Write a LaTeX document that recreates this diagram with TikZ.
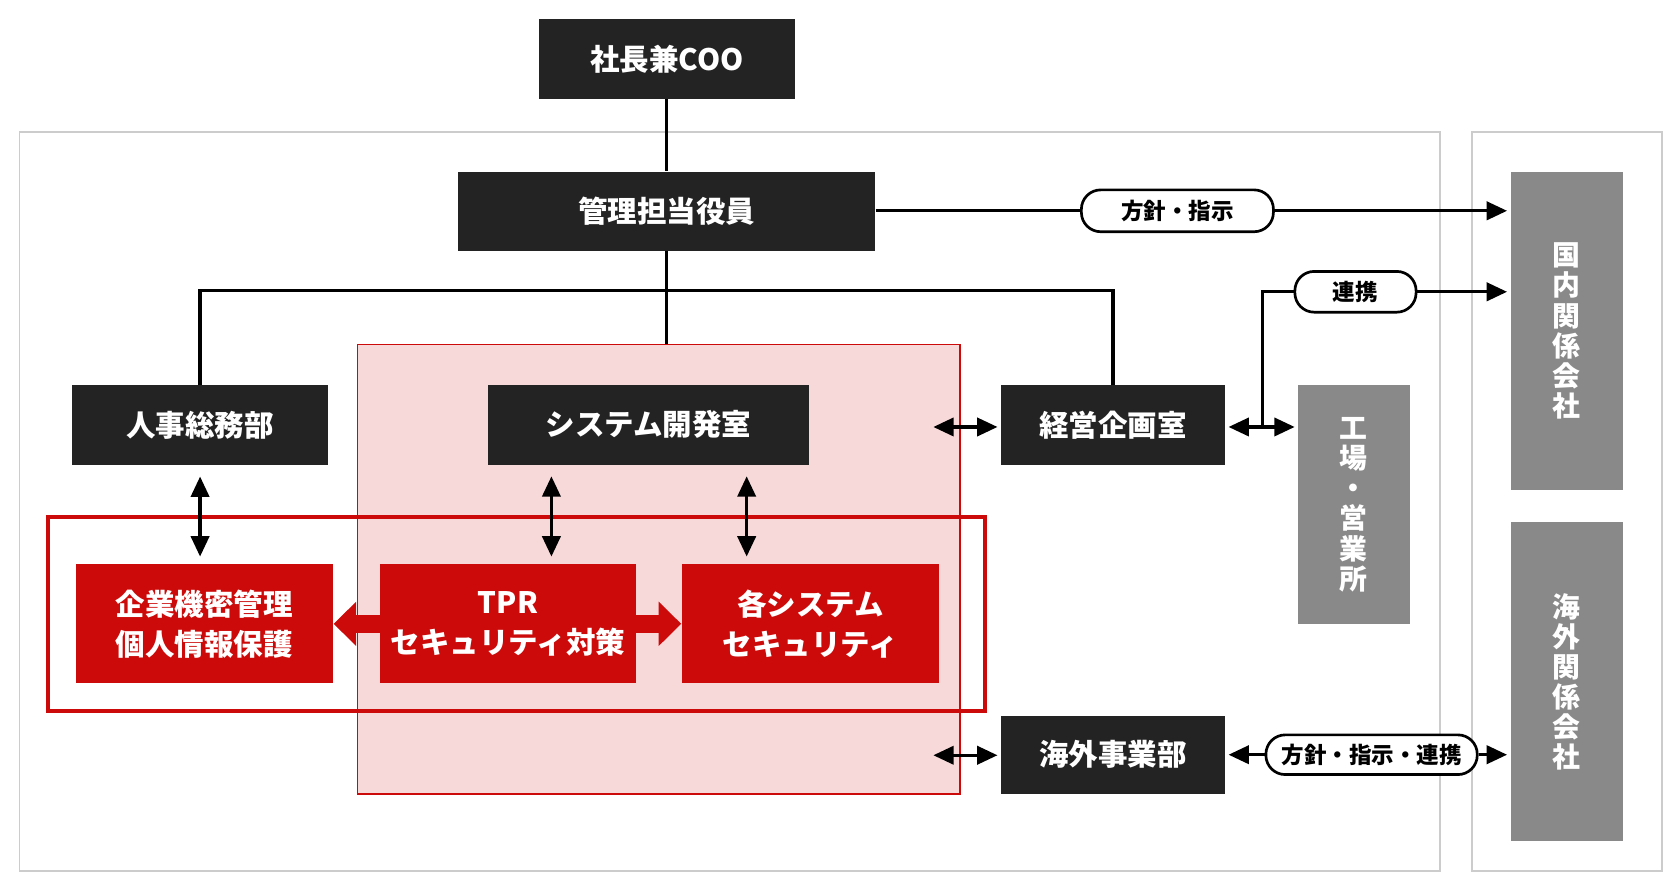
\documentclass[tikz,border=0pt]{standalone}
\usepackage{fontspec}
\setmainfont{Noto Sans CJK JP}
\usetikzlibrary{arrows.meta}
\definecolor{dk}{HTML}{232323}
\definecolor{rd}{HTML}{CC0A0A}
\definecolor{pk}{HTML}{F7D9DA}
\definecolor{gy}{HTML}{898989}
\definecolor{fr}{HTML}{CCCCCC}
\begin{document}
\begin{tikzpicture}[x=1pt,y=-1pt,
  hd/.tip={Triangle[length=19pt,width=17pt]},
  bighd/.tip={Triangle[length=21pt,width=40pt]},
  dbox/.style={fill=dk, text=white, inner sep=0pt, font=\bfseries\fontsize{27.5}{30}\selectfont},
  rbox/.style={fill=rd, text=white, inner sep=0pt, align=center, minimum width=239pt, minimum height=111pt, font=\bfseries\fontsize{27.5}{37}\selectfont},
  gbox/.style={fill=gy, text=white, inner sep=0pt, align=center, font=\bfseries\fontsize{26}{28}\selectfont},
  pill/.style={draw=black, fill=white, line width=2.5pt, rounded corners=18pt, inner sep=0pt, text=black, font=\bfseries\fontsize{21}{24}\selectfont},
  conn/.style={draw=black, line width=3pt},
  frame/.style={draw=fr, line width=1.5pt, inner sep=0pt}]
\useasboundingbox (0,0) rectangle (1566,829.5);
\fill[white] (0,0) rectangle (1566,829.5);
% frames
\node[frame, minimum width=1324pt, minimum height=689pt] (outer) at (680,467.5) {};
\node[frame, minimum width=177pt, minimum height=689pt] (outerr) at (1460.5,467.5) {};
% pink area
\node[draw=rd, fill=pk, line width=1.3pt, inner sep=0pt, minimum width=562pt, minimum height=419pt] (pink) at (614,530.5) {};
% red frame
\node[draw=rd, line width=4pt, inner sep=0pt, minimum width=873pt, minimum height=181pt] (rframe) at (481.5,572.5) {};
% boxes
\node[dbox, minimum width=239pt, minimum height=74pt] (coo) at (621.5,55) {社長兼COO};
\node[dbox, minimum width=389pt, minimum height=74pt] (kanri) at (621.5,197) {管理担当役員};
\node[dbox, minimum width=239pt, minimum height=74pt] (jinji) at (186.5,396) {人事総務部};
\node[dbox, minimum width=299pt, minimum height=74pt] (sys) at (604.5,396) {システム開発室};
\node[dbox, minimum width=209pt, minimum height=74pt] (keiei) at (1037.5,396) {経営企画室};
\node[dbox, minimum width=209pt, minimum height=73pt] (kaigai) at (1037.5,703.5) {海外事業部};
\node[gbox, minimum width=104pt, minimum height=223pt] (kojo) at (1262,470.5) {工\\場\\・\\営\\業\\所};
\node[gbox, minimum width=105pt, minimum height=297pt] (kokunai) at (1460.5,308.5) {国\\内\\関\\係\\会\\社};
\node[gbox, minimum width=105pt, minimum height=297pt] (kaigaikk) at (1460.5,635.5) {海\\外\\関\\係\\会\\社};
% pills
\node[pill, minimum width=179pt, minimum height=39pt] (p1) at (1097.5,196.5) {方針・指示};
\node[pill, minimum width=113pt, minimum height=38pt] (p2) at (1263.5,272) {連携};
\node[pill, minimum width=197pt, minimum height=37pt] (p3) at (1278.5,703.5) {方針・指示・連携};
% red arrow (behind red boxes)
\draw[rd, line width=17pt, {bighd}-{bighd}] (311,581.5) coordinate (ra) -- (635,581.5) coordinate (rb);
\node[rbox] (red1) at (190.5,581.5) {企業機密管理\\個人情報保護};
\node[rbox] (red2) at (473.5,581.5) {TPR\\セキュリティ対策};
\node[rbox] (red3) at (755.5,581.5) {各システム\\セキュリティ};
% coordinates
\coordinate (hbar) at (0,271);
\coordinate (sa) at (514,433);
\coordinate (sb) at (696,433);
\coordinate (kl) at (870,398);
\coordinate (kj) at (1177,398);
\coordinate (ol) at (870,704);
% connectors
\draw[conn] (coo.south) -- (kanri.north);
\draw[conn] (kanri.south) -- (kanri.south |- pink.north);
\draw[conn] (jinji.north) -- (jinji.north |- hbar) -| (keiei.north);
\draw[conn, {hd}-{hd}, shorten <=11pt, shorten >=7pt] (jinji.south) -- (jinji.south |- red1.north);
\draw[conn, {hd}-{hd}, shorten <=11pt, shorten >=7pt] (sa) -- (sa |- red2.north);
\draw[conn, {hd}-{hd}, shorten <=11pt, shorten >=7pt] (sb) -- (sb |- red3.north);
\draw[conn] (kanri.east |- p1.west) -- (p1.west);
\draw[conn, -{hd}, shorten >=3pt] (p1.east) -- (kokunai.west |- p1.east);
\draw[conn, {hd}-{hd}, shorten >=3pt] (kl) -- (keiei.west |- kl);
\draw[conn, {hd}-{hd}, shorten <=3pt, shorten >=3pt] (keiei.east |- kj) -- (kojo.west |- kj);
\draw[conn] (kj) |- (p2.west);
\draw[conn, -{hd}, shorten >=3pt] (p2.east) -- (kokunai.west |- p2.east);
\draw[conn, {hd}-{hd}, shorten >=3pt] (ol) -- (kaigai.west |- ol);
\draw[conn, {hd}-, shorten <=3pt] (kaigai.east |- p3.west) -- (p3.west);
\draw[conn, -{hd}, shorten >=3pt] (p3.east) -- (kaigaikk.west |- p3.east);
\end{tikzpicture}
\end{document}
